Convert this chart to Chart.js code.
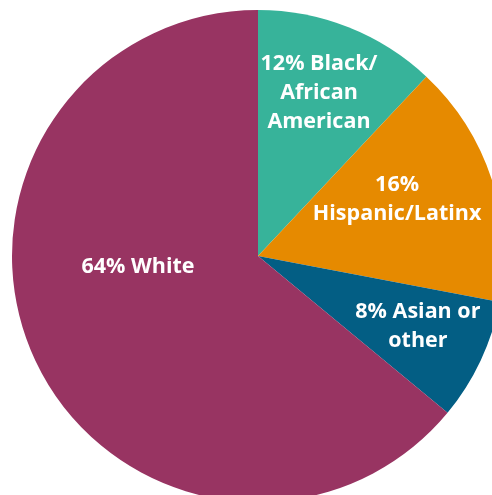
<!DOCTYPE html>
<html>
<head>
<meta charset="utf-8">
<script src="https://cdn.jsdelivr.net/npm/chart.js@4"></script>
<style>
  html, body { margin: 0; padding: 0; overflow: hidden; background: #fff; }
  #wrap { width: 516px; height: 512px; }
</style>
</head>
<body>
<div id="wrap"><canvas id="pie" width="516" height="512"></canvas></div>
<script>
// data (clockwise from 12 o'clock)
const groups = ['Black/African American', 'Hispanic/Latinx', 'Asian or other', 'White'];
const shares = [12, 16, 8, 64];
const labelLines = [
  ['12% Black/', 'African', 'American'],
  ['16%', 'Hispanic/Latinx'],
  ['8% Asian or', 'other'],
  ['64% White']
];
const colors = ['#37b39a', '#e68a00', '#035e84', '#983462'];

// where each label sits inside its slice: radius fraction, shift along the slice (fraction of its sweep)
const labelPlace = [
  { r: 0.707, shift: -0.025 },
  { r: 0.61, shift: -0.07 },
  { r: 0.71, shift: -0.05 },
  { r: 0.49, shift: 0.087 }
];

const sliceLabels = {
  id: 'sliceLabels',
  afterDatasetsDraw(chart) {
    const { ctx } = chart;
    const arcs = chart.getDatasetMeta(0).data;
    ctx.save();
    ctx.fillStyle = '#fff';
    ctx.font = 'bold 21.5px "Open Sans"';
    ctx.textAlign = 'center';
    ctx.textBaseline = 'middle';
    arcs.forEach((arc, i) => {
      const p = labelPlace[i];
      const a = (arc.startAngle + arc.endAngle) / 2 + (arc.endAngle - arc.startAngle) * p.shift;
      const r = arc.outerRadius * p.r;
      const x = arc.x + Math.cos(a) * r;
      const y = arc.y + Math.sin(a) * r;
      const lines = labelLines[i];
      const lh = 29;
      lines.forEach((t, k) => {
        ctx.fillText(t, x, y + (k - (lines.length - 1) / 2) * lh);
      });
    });
    ctx.restore();
  }
};

new Chart(document.getElementById('pie'), {
  type: 'pie',
  data: {
    labels: groups,
    datasets: [{
      data: shares,
      backgroundColor: colors,
      borderWidth: 0
    }]
  },
  options: {
    responsive: false,
    animation: false,
    layout: { padding: { left: 12, right: 12, top: 10, bottom: 10 } },
    plugins: {
      legend: { display: false },
      tooltip: { enabled: false }
    }
  },
  plugins: [sliceLabels]
});
</script>
</body>
</html>
